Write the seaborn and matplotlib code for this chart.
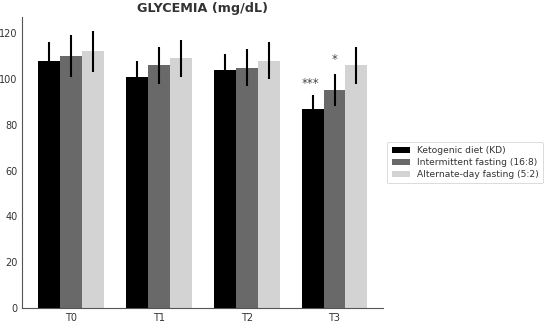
import matplotlib
matplotlib.use("Agg")
import matplotlib.pyplot as plt
import seaborn as sns
import pandas as pd

timepoints = ["T0", "T1", "T2", "T3"]
groups = ["Ketogenic diet (KD)", "Intermittent fasting (16:8)", "Alternate-day fasting (5:2)"]
kd_mean = [108, 101, 104, 87]
kd_err = [8, 7, 7, 6]
if_mean = [110, 106, 105, 95]
if_err = [9, 8, 8, 7]
adf_mean = [112, 109, 108, 106]
adf_err = [9, 8, 8, 8]
colors = ["#000000", "#696969", "#d3d3d3"]
yticks = [0, 20, 40, 60, 80, 100, 120]

means = [kd_mean, if_mean, adf_mean]
errs = [kd_err, if_err, adf_err]
rows = []
for g, m, e in zip(groups, means, errs):
    for t, mv, ev in zip(timepoints, m, e):
        rows.append({"time": t, "group": g, "value": mv, "err": ev})
df = pd.DataFrame(rows)

sns.set_style("white")
fig = plt.figure(figsize=(5.5, 3.23), dpi=100)
ax = fig.add_axes([0.04, 0.046, 0.656, 0.901])

sns.barplot(data=df, x="time", y="value", hue="group", order=timepoints,
            hue_order=groups, palette=colors, width=0.75, errorbar=None,
            saturation=1, ax=ax, linewidth=0)

for gi, g in enumerate(groups):
    sub = df[df["group"] == g]
    cont = ax.containers[gi]
    for p, (_, r) in zip(cont, sub.iterrows()):
        xc = p.get_x() + p.get_width() / 2
        ax.errorbar(xc, r["value"], yerr=r["err"], fmt="none", ecolor="black",
                    elinewidth=1.5, capsize=0, zorder=3)

# significance marks
c0 = ax.containers[0][3]
c1 = ax.containers[1][3]
ax.text(c0.get_x() + c0.get_width() / 2 - 0.02, kd_mean[3] + kd_err[3] + 2, "***",
        ha="center", va="bottom", fontsize=8.5, color="#444444")
ax.text(c1.get_x() + c1.get_width() / 2, if_mean[3] + if_err[3] + 3.5, "*",
        ha="center", va="bottom", fontsize=8.5, color="#444444")

ax.set_xlim(-0.56, 3.55)
ax.set_ylim(0, 127)
ax.set_yticks(yticks)
ax.set_xlabel("")
ax.set_ylabel("")
ax.set_title("GLYCEMIA (mg/dL)", fontsize=9.2, fontweight="bold", color="#333333", pad=4)
for s in ["top", "right"]:
    ax.spines[s].set_visible(False)
for s in ["left", "bottom"]:
    ax.spines[s].set_color("#555555")
    ax.spines[s].set_linewidth(0.8)
ax.tick_params(axis="both", labelsize=7, colors="#333333", length=2, width=0.6, pad=1.2,
               direction="out")

leg = ax.legend(loc="center left", bbox_to_anchor=(1.0, 0.5), fontsize=6.6,
                frameon=True, handlelength=2.0, handleheight=0.7, borderpad=0.45,
                labelspacing=0.35, handletextpad=0.8)
leg.get_frame().set_edgecolor("#cccccc")
leg.get_frame().set_linewidth(0.6)
for t in leg.get_texts():
    t.set_color("#333333")

fig.savefig("out.png", dpi=100)
